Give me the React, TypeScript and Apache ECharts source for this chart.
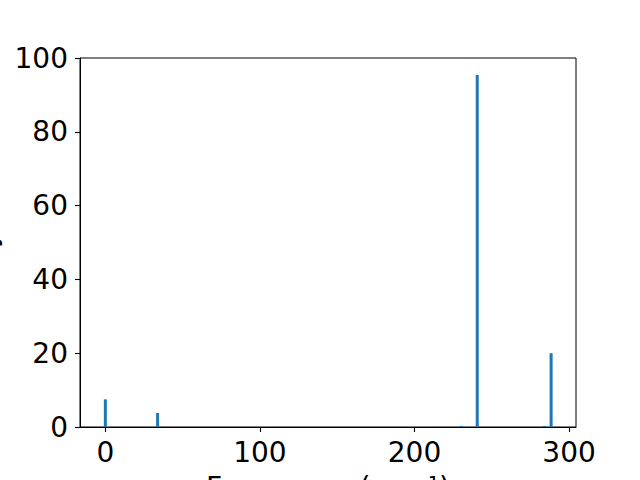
import React, { useEffect, useRef } from "react";
import * as echarts from "echarts";

const frequencies = [0, 33.8, 230.3, 240.6, 284.3, 288.4];
const intensities = [7.5, 3.8, 0.3, 95.4, 0.3, 20.0];
const xTicks = [0, 100, 200, 300];
const xLabel = "Frequency (cm⁻¹)";
const yLabel = "IR Intensity (km/mol)";

export default function App() {
  const ref = useRef<HTMLDivElement>(null);
  useEffect(() => {
    document.body.style.margin = "0";
    const chart = echarts.init(ref.current!, null, { renderer: "svg" });
    const font = "DejaVu Sans";
    chart.setOption({
      animation: false,
      backgroundColor: "#ffffff",
      grid: {
        left: 80,
        top: 58,
        right: 64,
        bottom: 53,
        containLabel: false,
        outerBoundsMode: "none",
        show: true,
        borderColor: "#000000",
        borderWidth: 1,
        backgroundColor: "transparent",
      },
      xAxis: {
        type: "value",
        min: -16.4,
        max: 304.5,
        name: xLabel,
        nameLocation: "middle",
        nameGap: 46,
        nameTextStyle: { fontFamily: font, fontSize: 28, color: "#000" },
        axisLine: { show: true, onZero: false, lineStyle: { color: "#000", width: 1 } },
        axisTick: { show: true, length: 5, customValues: xTicks, lineStyle: { color: "#000", width: 1.1 } },
        axisLabel: {
          customValues: xTicks,
          fontFamily: font,
          fontSize: 28,
          color: "#000",
          margin: 11,
        },
        splitLine: { show: false },
      },
      yAxis: {
        type: "value",
        min: 0,
        max: 100,
        interval: 20,
        name: yLabel,
        nameLocation: "middle",
        nameRotate: 90,
        nameGap: 80,
        nameTextStyle: { fontFamily: font, fontSize: 28, color: "#000" },
        axisLine: { show: true, onZero: false, lineStyle: { color: "#000", width: 1 } },
        axisTick: { show: true, length: 5, lineStyle: { color: "#000", width: 1.1 } },
        axisLabel: {
          fontFamily: font,
          fontSize: 28,
          color: "#000",
          margin: 12,
        },
        splitLine: { show: false },
      },
      series: [
        {
          type: "bar",
          data: frequencies.map((f, i) => [f, intensities[i]]),
          barWidth: 3,
          itemStyle: { color: "#1f77b4" },
        },
      ],
    });
    return () => chart.dispose();
  }, []);
  return <div ref={ref} style={{ width: 640, height: 480 }} />;
}
